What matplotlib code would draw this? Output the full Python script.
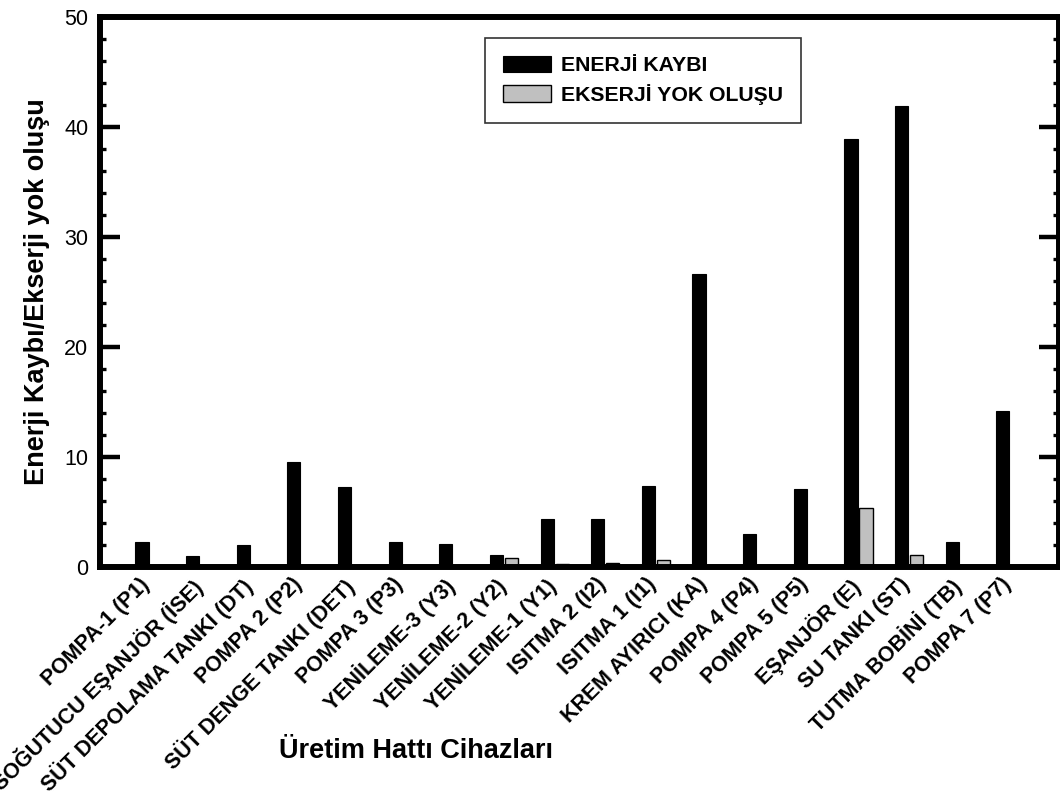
import numpy as np
import matplotlib
matplotlib.use('Agg')
import matplotlib.pyplot as plt
import matplotlib.transforms as mtransforms
from matplotlib.ticker import MultipleLocator

plt.rcParams['font.family'] = ['Liberation Sans', 'DejaVu Sans']

cihazlar = ["POMPA-1 (P1)", "SOĞUTUCU EŞANJÖR (İSE)", "SÜT DEPOLAMA TANKI (DT)",
            "POMPA 2 (P2)", "SÜT DENGE TANKI (DET)", "POMPA 3 (P3)",
            "YENİLEME-3 (Y3)", "YENİLEME-2 (Y2)", "YENİLEME-1 (Y1)",
            "ISITMA 2 (I2)", "ISITMA 1 (I1)", "KREM AYIRICI (KA)",
            "POMPA 4 (P4)", "POMPA 5 (P5)", "EŞANJÖR (E)", "SU TANKI (ST)",
            "TUTMA BOBİNİ (TB)", "POMPA 7 (P7)"]
enerji_kaybi = [2.3, 1.0, 2.0, 9.55, 7.25, 2.3, 2.1, 1.1, 4.35, 4.35, 7.35, 26.6,
                3.0, 7.1, 38.9, 41.9, 2.3, 14.2]
ekserji_yok = [0, 0, 0, 0, 0, 0, 0, 0.85, 0.3, 0.35, 0.65, 0, 0, 0, 5.4, 1.1, 0, 0.2]

x = np.arange(len(cihazlar))

fig = plt.figure(figsize=(10.6, 7.92), dpi=100)
ax = fig.add_axes([100/1060, 1 - 567/792, 959/1060, 550/792])

ax.bar(x - 0.148, enerji_kaybi, width=0.26, color='black', edgecolor='black',
       linewidth=0.8, label='ENERJİ KAYBI', zorder=2)
ax.bar(x + 0.148, ekserji_yok, width=0.26, color='#c0c0c0', edgecolor='black',
       linewidth=1.0, label='EKSERJİ YOK OLUŞU', zorder=2)

ax.set_xlim(-0.977, 17.96)
ax.set_ylim(0, 50)
ax.yaxis.set_major_locator(MultipleLocator(10))
ax.yaxis.set_minor_locator(MultipleLocator(2))
ax.tick_params(axis='y', which='major', direction='in', length=14.5, width=3.2,
               left=True, right=True, labelsize=15.5, pad=8.5)
ax.tick_params(axis='y', which='minor', direction='in', length=4.5, width=2.4,
               left=True, right=True)
ax.set_xticks(x)
ax.set_xticklabels(cihazlar, rotation=45, ha='right', va='top',
                   rotation_mode='anchor', fontsize=15.5, fontweight='bold')
ax.tick_params(axis='x', length=0, pad=8)
# kaydır: etiket sonu grup merkezine gelsin
offset = mtransforms.ScaledTranslation(-0.10, 0.04, fig.dpi_scale_trans)
for lbl in ax.get_xticklabels():
    lbl.set_transform(lbl.get_transform() + offset)

for s in ax.spines.values():
    s.set_linewidth(4.3)
    s.set_zorder(3)

ax.set_ylabel('Enerji Kaybı/Ekserji yok oluşu', fontsize=19.5, fontweight='bold')
ax.yaxis.set_label_coords(-0.052, 0.5)
ax.set_xlabel('Üretim Hattı Cihazları', fontsize=19.5, fontweight='bold')
ax.xaxis.set_label_coords(0.3295, -0.31)

leg = ax.legend(loc='upper left', bbox_to_anchor=(0.401, 0.962), borderaxespad=0,
                prop={'size': 15.3, 'weight': 'bold'}, fancybox=False, framealpha=1,
                handlelength=2.3, handleheight=0.8, handletextpad=0.45,
                labelspacing=0.4, borderpad=0.85)
leg.get_frame().set_edgecolor('#333333')
leg.get_frame().set_linewidth(1.2)

fig.savefig('out.png', dpi=100)
